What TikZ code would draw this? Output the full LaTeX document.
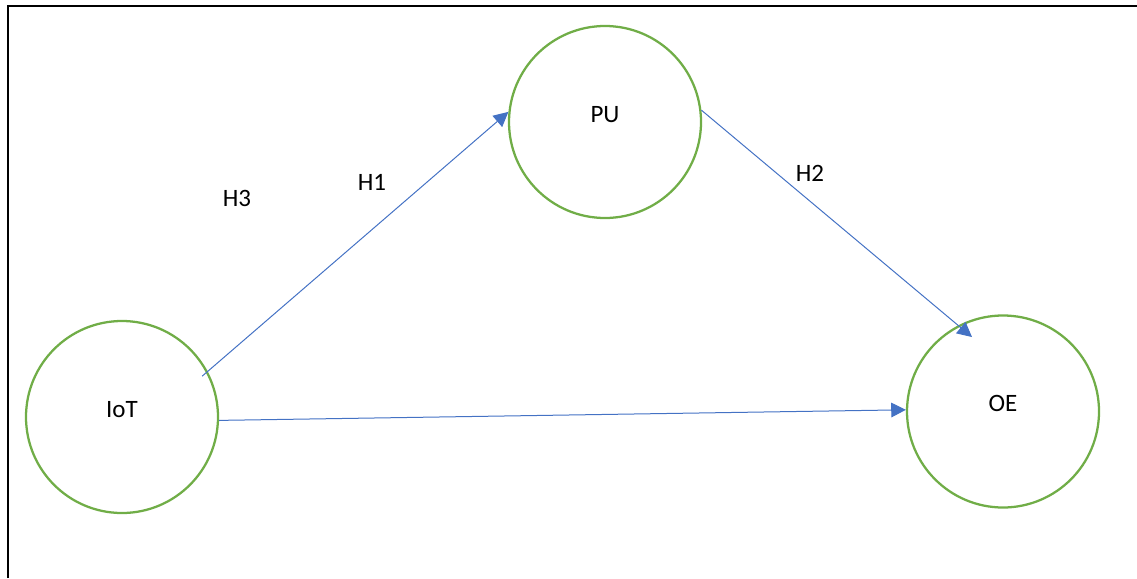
\documentclass[tikz,border=0pt]{standalone}
\usepackage{fontspec}
\setmainfont{Carlito}
\usepackage{tikz}
\usetikzlibrary{arrows.meta, calc}
\definecolor{constructgreen}{RGB}{112,173,71}
\definecolor{pathblue}{RGB}{68,114,196}
\tikzset{
  construct/.style={circle, draw=constructgreen, line width=1.7pt,
                    minimum size=144pt, inner sep=0pt,
                    text height=9pt, text depth=9pt, font=\hyplabel},
  link/.style={-{Triangle[length=11pt, width=11pt]}, line width=0.75pt, color=pathblue},
  hyp/.style={anchor=base, font=\hyplabel},
}
\newcommand{\hyplabel}{\fontsize{18.75}{22}\selectfont}

\begin{document}
\begin{tikzpicture}[x=0.75pt, y=-0.75pt]
  \useasboundingbox (0,0) rectangle (1137,578);
  % frame
  \draw[line width=1.5pt] (8,578) -- (8,6) -- (1137,6);
  % constructs
  \node[construct] (iot) at (122,417) {IoT};
  \node[construct] (pu) at (605,122) {PU};
  \node[construct] (oe) at (1003,411.5) {OE};
  % free ends inside the circles
  \coordinate (iotne) at ($(iot.center)+(27:67.5pt)$);
  \coordinate (oenw) at ($(oe.center)+(112.6:60.5pt)$);
  % paths
  \draw[link] (iotne) -- (pu.174);
  \draw[link] (pu.7) -- (oenw);
  \draw[link] (iot.-2) -- (oe.179);
  % hypotheses
  \node[hyp] (h3) at (237,206.7) {H3};
  \node[hyp] (h1) at (372,190) {H1};
  \node[hyp] (h2) at (810,181.7) {H2};
\end{tikzpicture}
\end{document}
